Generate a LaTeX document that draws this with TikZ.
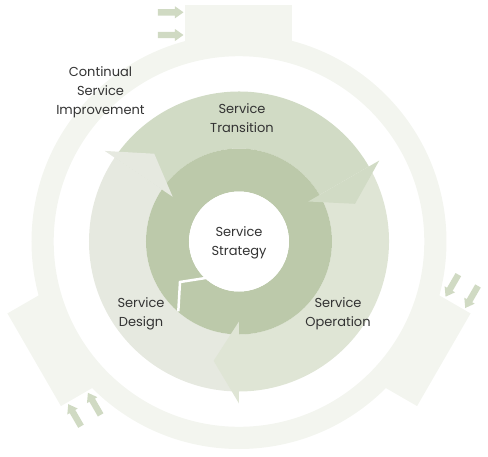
\documentclass[tikz,border=0pt]{standalone}
\usepackage{fontspec}
\setmainfont{Poppins}
\definecolor{outerc}{HTML}{F3F5EF}
\definecolor{transc}{HTML}{D1DBC5}
\definecolor{operc}{HTML}{DFE5D5}
\definecolor{desc}{HTML}{E6E9E0}
\definecolor{darkc}{HTML}{BCC9AA}
\definecolor{arrc}{HTML}{D0DAC3}
\definecolor{txtc}{HTML}{333333}
\begin{document}
\begin{tikzpicture}[x=1pt,y=1pt,
  lbl/.style={text=txtc, align=center, font=\fontsize{13}{18.8}\selectfont, inner sep=0pt},
  smallarrow/.style={fill=arrc}]
\useasboundingbox (-239,-214.5) rectangle (249,241.5);
% outer ring (Continual Service Improvement)
\fill[outerc, even odd rule] (0,0) circle[radius=207.5] (0,0) circle[radius=185.3];
\foreach \a in {0,120,-120}{
  \begin{scope}[rotate=\a]
    \fill[outerc] (-53.5,190) rectangle (53.5,236.5);
    \foreach \r in {229.2,206.5}{
      \fill[smallarrow] (-81,\r+3.2) -- (-64,\r+3.2) -- (-64,\r+6) -- (-55.5,\r)
        -- (-64,\r-6) -- (-64,\r-3.2) -- (-81,\r-3.2) -- cycle;
    }
  \end{scope}
}
% middle ring segments
\fill[transc] (146:150) arc[start angle=146,end angle=30,radius=150] -- (30:93)
  arc[start angle=30,end angle=146,radius=93] -- cycle;
\fill[operc] (30:150) arc[start angle=30,end angle=-90,radius=150] -- (-90:93)
  arc[start angle=-90,end angle=30,radius=93] -- cycle;
\fill[desc] (-90:150) arc[start angle=-90,end angle=-214,radius=150] -- (-214:93)
  arc[start angle=-214,end angle=-90,radius=93] -- cycle;
% inner dark ring
\fill[darkc, even odd rule] (0,0) circle[radius=93] (0,0) circle[radius=50];
% arrow heads
\fill[transc] (30:80) -- (30:162) -- (18:122) -- cycle;
\fill[operc] (-90:80) -- (-90:162) -- (-102:122) -- cycle;
\fill[desc] (146:80) -- (146:162) -- (134:122) -- cycle;
% centre
\fill[white] (0,0) circle[radius=50];
\draw[white, line width=2.5pt, line join=miter] (-27,-35.5) -- (-59,-40.5) -- (229:92.5);
% labels
\node[lbl] (csi) at (-138.5,149) {Continual\\Service\\Improvement};
\node[lbl] (st) at (3,123.5) {Service\\Transition};
\node[lbl] (ss) at (0,-1) {Service\\Strategy};
\node[lbl] (sd) at (-98,-72.5) {Service\\Design};
\node[lbl] (so) at (99,-72.5) {Service\\Operation};
\end{tikzpicture}
\end{document}
